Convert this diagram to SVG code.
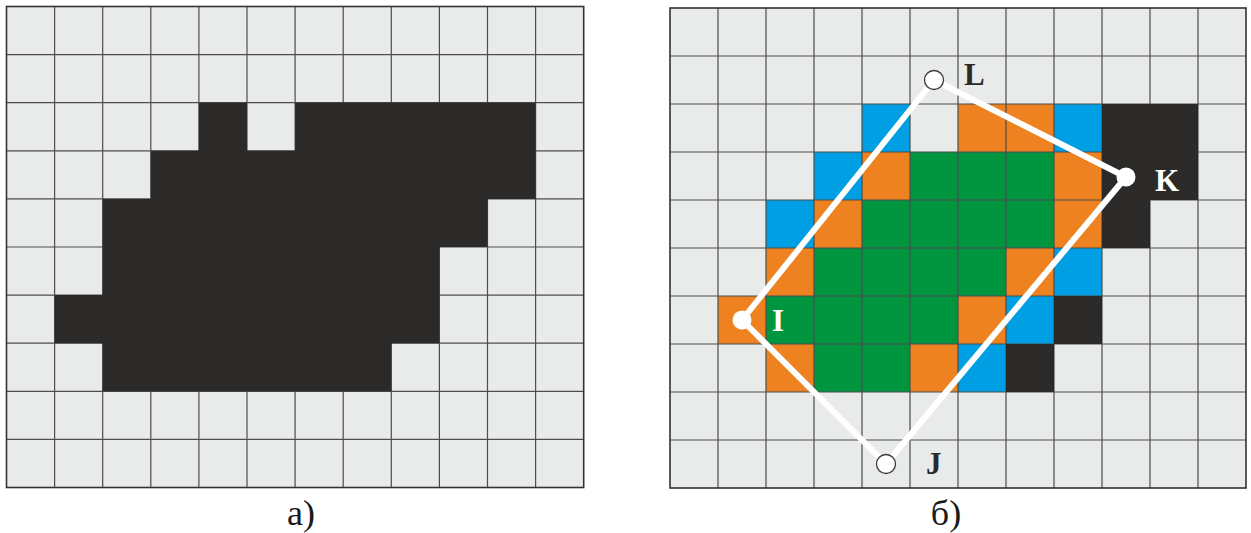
<svg xmlns="http://www.w3.org/2000/svg" width="1251" height="533" viewBox="0 0 1251 533">
<style>
.bg{fill:#e9eaea}
.dk{fill:#2b2a29}
.or{fill:#ee8220}
.gr{fill:#00963f}
.bl{fill:#009fe3}
.gl{fill:none;stroke:#4d4d4d;stroke-width:1.2}
.bd{fill:none;stroke:#333;stroke-width:1.6}
.edge{fill:none;stroke:#fff;stroke-width:6;stroke-linejoin:round;stroke-linecap:round}
.hollow{fill:#fff;stroke:#3a3a3a;stroke-width:1.3}
.solid{fill:#fff}
.lab{font-family:"Liberation Serif","Times New Roman",serif;font-weight:bold;font-size:31px}
.cap{font-family:"Liberation Serif","Times New Roman",serif;font-size:36px;fill:#1a1a1a;text-anchor:middle}
</style>
<g id="gridA">
<rect class="bg" x="6.5" y="6.5" width="577.2" height="481"/>
<path class="gl" d="M54.6 6.5V487.5M102.7 6.5V487.5M150.8 6.5V487.5M198.9 6.5V487.5M247 6.5V487.5M295.1 6.5V487.5M343.2 6.5V487.5M391.3 6.5V487.5M439.4 6.5V487.5M487.5 6.5V487.5M535.6 6.5V487.5M6.5 54.6H583.7M6.5 102.7H583.7M6.5 150.8H583.7M6.5 198.9H583.7M6.5 247H583.7M6.5 295.1H583.7M6.5 343.2H583.7M6.5 391.3H583.7M6.5 439.4H583.7"/>
<path class="dk" d="M198.9 102.7H247V150.8H295.1V102.7H535.6V198.9H487.5V247H439.4V343.2H391.3V391.3H102.7V343.2H54.6V295.1H102.7V198.9H150.8V150.8H198.9Z"/>
<rect class="bd" x="6.5" y="6.5" width="577.2" height="481"/>
</g>
<g id="gridB">
<rect class="bg" x="670" y="8" width="576" height="480"/>
<rect class="bl" x="862" y="104" width="48" height="48"/>
<rect class="or" x="958" y="104" width="96" height="48"/>
<rect class="bl" x="1054" y="104" width="48" height="48"/>
<rect class="bl" x="814" y="152" width="48" height="48"/>
<rect class="or" x="862" y="152" width="48" height="48"/>
<rect class="gr" x="910" y="152" width="144" height="48"/>
<rect class="or" x="1054" y="152" width="96" height="48"/>
<rect class="bl" x="766" y="200" width="48" height="48"/>
<rect class="or" x="814" y="200" width="48" height="48"/>
<rect class="gr" x="862" y="200" width="192" height="48"/>
<rect class="or" x="1054" y="200" width="48" height="48"/>
<rect class="or" x="766" y="248" width="48" height="48"/>
<rect class="gr" x="814" y="248" width="192" height="48"/>
<rect class="or" x="1006" y="248" width="48" height="48"/>
<rect class="bl" x="1054" y="248" width="48" height="48"/>
<rect class="or" x="718" y="296" width="48" height="48"/>
<rect class="gr" x="766" y="296" width="192" height="48"/>
<rect class="or" x="958" y="296" width="48" height="48"/>
<rect class="bl" x="1006" y="296" width="48" height="48"/>
<rect class="or" x="766" y="344" width="48" height="48"/>
<rect class="gr" x="814" y="344" width="96" height="48"/>
<rect class="or" x="910" y="344" width="48" height="48"/>
<rect class="bl" x="958" y="344" width="48" height="48"/>
<path class="gl" d="M718 8V488M766 8V488M814 8V488M862 8V488M910 8V488M958 8V488M1006 8V488M1054 8V488M1102 8V488M1150 8V488M1198 8V488M670 56H1246M670 104H1246M670 152H1246M670 200H1246M670 248H1246M670 296H1246M670 344H1246M670 392H1246M670 440H1246"/>
<path class="dk" d="M1102 104H1198V200H1150V248H1102Z"/>
<rect class="dk" x="1054" y="296" width="48" height="48"/>
<rect class="dk" x="1006" y="344" width="48" height="48"/>
<rect class="bd" x="670" y="8" width="576" height="480"/>
</g>
<g id="connectors">
<polygon class="edge" points="742,320 934,80 1126,177 886,464"/>
</g>
<g id="nodeL">
<circle class="hollow" cx="934" cy="80" r="9.5"/>
<text class="lab" x="964" y="85" fill="#2b2a29">L</text>
</g>
<g id="nodeK">
<circle class="solid" cx="1126" cy="177" r="9.5"/>
<text class="lab" x="1155" y="191" fill="#ffffff">K</text>
</g>
<g id="nodeI">
<circle class="solid" cx="742" cy="320" r="9.5"/>
<text class="lab" x="772" y="331" fill="#ffffff">I</text>
</g>
<g id="nodeJ">
<circle class="hollow" cx="886" cy="464" r="9.5"/>
<text class="lab" x="926" y="474" fill="#2b2a29">J</text>
</g>
<text class="cap" x="301" y="525">а)</text>
<text class="cap" x="946" y="525">б)</text>
</svg>
